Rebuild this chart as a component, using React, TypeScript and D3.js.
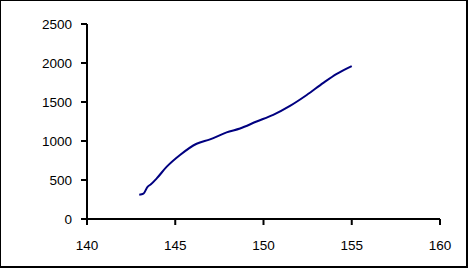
import React from "react";
import * as d3 from "d3";

const xValues = [142.96, 143.2, 143.42, 143.62, 143.95, 144.52, 145.27, 146.21, 146.97, 147.91, 148.67, 149.61, 150.55, 151.5, 152.45, 153.39, 154.15, 155.0];
const yValues = [310, 325, 410, 445, 521, 671, 821, 965, 1021, 1110, 1160, 1250, 1335, 1450, 1590, 1745, 1860, 1960];
const xTicks = [140, 145, 150, 155, 160];
const yTicks = [0, 500, 1000, 1500, 2000, 2500];

export default function App() {
  const W = 468, H = 270;
  const x = d3.scaleLinear().domain([140, 160]).range([87, 440]);
  const y = d3.scaleLinear().domain([0, 2500]).range([219, 24]);
  const data = xValues.map((v, i) => [v, yValues[i]] as [number, number]);
  const line = d3.line<[number, number]>().x(d => x(d[0])).y(d => y(d[1])).curve(d3.curveMonotoneX);
  const font = "'Liberation Sans', Arial, sans-serif";
  return (
    <svg width={W} height={H} style={{ position: "absolute", left: 0, top: 0 }}>
      <rect x={0} y={0} width={W} height={H} fill="white" />
      <line x1={0} x2={467} y1={0.5} y2={0.5} stroke="black" strokeWidth={1} />
      <line x1={0.5} x2={0.5} y1={0} y2={268} stroke="black" strokeWidth={1} />
      <line x1={467} x2={467} y1={0} y2={268} stroke="black" strokeWidth={2} />
      <line x1={0} x2={468} y1={267} y2={267} stroke="black" strokeWidth={2} />
      <line x1={x(140)} x2={x(160)} y1={y(0)} y2={y(0)} stroke="black" strokeWidth={2} />
      <line x1={x(140)} x2={x(140)} y1={y(0)} y2={y(2500)} stroke="black" strokeWidth={2} />
      {yTicks.map(t => (
        <g key={"y" + t}>
          <line x1={81} x2={x(140)} y1={y(t)} y2={y(t)} stroke="black" strokeWidth={2} />
          <text x={72} y={y(t)} dy="0.36em" textAnchor="end" fontFamily={font} fontSize={13.5} fill="black">{t}</text>
        </g>
      ))}
      {xTicks.map(t => (
        <g key={"x" + t}>
          <line x1={x(t)} x2={x(t)} y1={y(0)} y2={y(0) + 6} stroke="black" strokeWidth={2} />
          <text x={x(t)} y={250} textAnchor="middle" fontFamily={font} fontSize={13.5} fill="black">{t}</text>
        </g>
      ))}
      <path d={line(data) || ""} fill="none" stroke="#000080" strokeWidth={2} strokeLinejoin="round" />
    </svg>
  );
}
